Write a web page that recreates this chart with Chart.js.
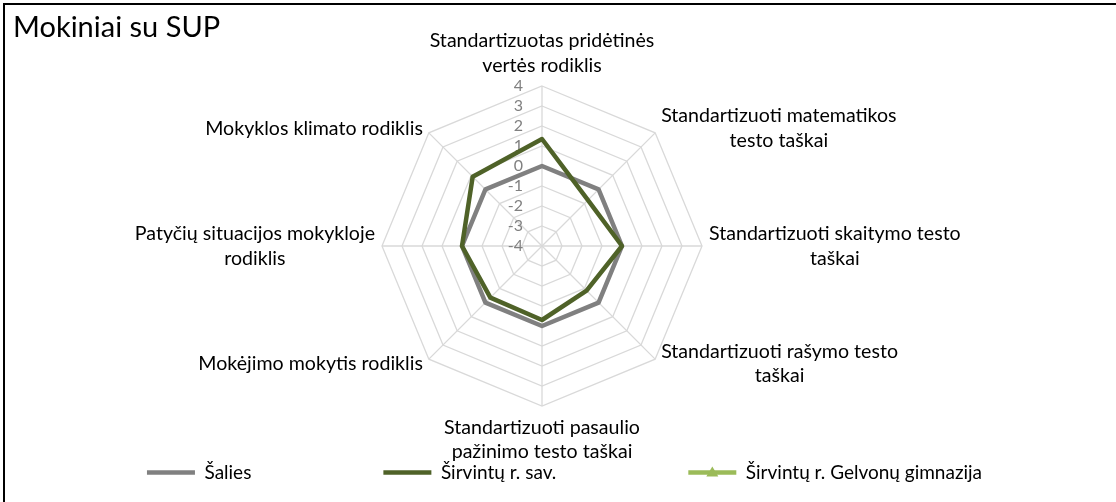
<!DOCTYPE html>
<html>
<head>
<meta charset="utf-8">
<script src="https://cdn.jsdelivr.net/npm/chart.js@4.4.1/dist/chart.umd.min.js"></script>
<style>
  html, body { margin: 0; padding: 0; background: #fff; }
  #wrap { position: relative; width: 1116px; height: 502px; overflow: hidden; }
  #frame { position: absolute; left: 3px; top: 3px; width: 1200px; height: 600px;
           border-left: 2px solid #000; border-top: 2px solid #000; }
  canvas { position: absolute; left: 0; top: 0; }
</style>
</head>
<body>
<div id="wrap">
  <div id="frame"></div>
  <canvas id="chart" width="1116" height="502"></canvas>
</div>
<script>
// data
const chartTitle = "Mokiniai su SUP";
const axisLabels = [
  ["Standartizuotas pridėtinės", "vertės rodiklis"],
  ["Standartizuoti matematikos", "testo taškai"],
  ["Standartizuoti skaitymo testo", "taškai"],
  ["Standartizuoti rašymo testo", "taškai"],
  ["Standartizuoti pasaulio", "pažinimo testo taškai"],
  ["Mokėjimo mokytis rodiklis"],
  ["Patyčių situacijos mokykloje", "rodiklis"],
  ["Mokyklos klimato rodiklis"]
];
const tickValues = [-4, -3, -2, -1, 0, 1, 2, 3, 4];
const seriesNames = ["Šalies", "Širvintų r. sav.", "Širvintų r. Gelvonų gimnazija"];
const saliesValues = [0, 0, 0, 0, 0, 0, 0, 0];
const savivaldybeValues = [1.35, -0.75, 0, -0.85, -0.3, -0.35, 0, 0.9];
const gimnazijaValues = [];

const FONT = "Lato";
const LABEL_SIZE = 19.6;
const LEGEND_SIZE = 19;
const LINE_H = 24.5;

// Excel-like axis texts: tick numbers left of the top spoke, labels centred per block
const axisTextPlugin = {
  id: "axisText",
  beforeDatasetsDraw(chart) {
    const scale = chart.scales.r;
    const ctx = chart.ctx;
    ctx.save();
    ctx.font = "16px " + FONT;
    ctx.fillStyle = "#808080";
    ctx.textAlign = "right";
    ctx.textBaseline = "middle";
    tickValues.forEach(v => {
      const p = scale.getPointPositionForValue(0, v);
      ctx.fillText(String(v), p.x - 19, p.y);
    });

    ctx.font = LABEL_SIZE + "px " + FONT;
    ctx.fillStyle = "#000";
    ctx.textAlign = "center";
    axisLabels.forEach((lines, i) => {
      const v = scale.getPointPosition(i, scale.drawingArea);
      const dx = v.x - scale.xCenter;
      const dy = v.y - scale.yCenter;
      const w = Math.max(...lines.map(s => ctx.measureText(s).width));
      const h = lines.length * LINE_H;
      let cx, top;
      if (Math.abs(dx) < 1) {
        cx = v.x;
        top = dy < 0 ? v.y - 8.5 - h : v.y + 9;
      } else {
        const gap = Math.abs(dy) < 1 ? 7 : 6;
        cx = dx > 0 ? v.x + gap + w / 2 : v.x - gap - w / 2;
        top = v.y + (dy < -1 ? -4.5 : dy > 1 ? 4.5 : 0) - h / 2;
      }
      lines.forEach((s, k) => ctx.fillText(s, cx, top + LINE_H * k + LINE_H / 2));
    });
    ctx.restore();
  },
  afterDraw(chart) {
    // triangle marker on the third legend entry
    const box = chart.legend.legendHitBoxes[2];
    if (!box) return;
    const ctx = chart.ctx;
    const x = box.left + 24;
    const y = box.top + LEGEND_SIZE / 2;
    ctx.save();
    ctx.fillStyle = "#9BBB59";
    ctx.beginPath();
    ctx.moveTo(x, y - 6);
    ctx.lineTo(x + 6, y + 4);
    ctx.lineTo(x - 6, y + 4);
    ctx.closePath();
    ctx.fill();
    ctx.restore();
  }
};

new Chart(document.getElementById("chart"), {
  type: "radar",
  data: {
    labels: axisLabels.map(l => l.join(" ")),
    datasets: [
      { label: seriesNames[0], data: saliesValues, borderColor: "#808080", backgroundColor: "#808080",
        borderWidth: 4.5, pointRadius: 0, fill: false, order: 3, borderCapStyle: "round", borderJoinStyle: "round" },
      { label: seriesNames[1], data: savivaldybeValues, borderColor: "#4F6228", backgroundColor: "#4F6228",
        borderWidth: 4.5, pointRadius: 0, fill: false, order: 2, borderCapStyle: "round", borderJoinStyle: "round" },
      { label: seriesNames[2], data: gimnazijaValues, borderColor: "#9BBB59", backgroundColor: "#9BBB59",
        borderWidth: 4.5, pointRadius: 5, pointStyle: "triangle", fill: false, order: 1, borderCapStyle: "round" }
    ]
  },
  options: {
    responsive: false,
    animation: false,
    layout: { padding: { left: 13, top: 6, right: 0, bottom: 10 } },
    plugins: {
      title: {
        display: true,
        text: chartTitle,
        align: "start",
        color: "#000",
        font: { family: FONT, size: 29, weight: "normal", lineHeight: 1.2 },
        padding: { top: 4, bottom: 0 }
      },
      legend: {
        position: "bottom",
        labels: {
          color: "#000",
          font: { family: FONT, size: LEGEND_SIZE, lineHeight: 1 },
          usePointStyle: true,
          pointStyle: "line",
          pointStyleWidth: 48,
          padding: 132,
          sort: (a, b) => a.datasetIndex - b.datasetIndex
        }
      },
      tooltip: { enabled: false }
    },
    scales: {
      r: {
        min: -4,
        max: 4,
        ticks: { stepSize: 1, display: false },
        pointLabels: { display: false },
        grid: { color: "#d9d9d9", lineWidth: 1.3 },
        angleLines: { color: "#d9d9d9", lineWidth: 1.3 },
        afterFit(scale) {
          scale.xCenter = 542;
          scale.yCenter = 246;
          scale.drawingArea = 160;
        }
      }
    }
  },
  plugins: [axisTextPlugin]
});
</script>
</body>
</html>
